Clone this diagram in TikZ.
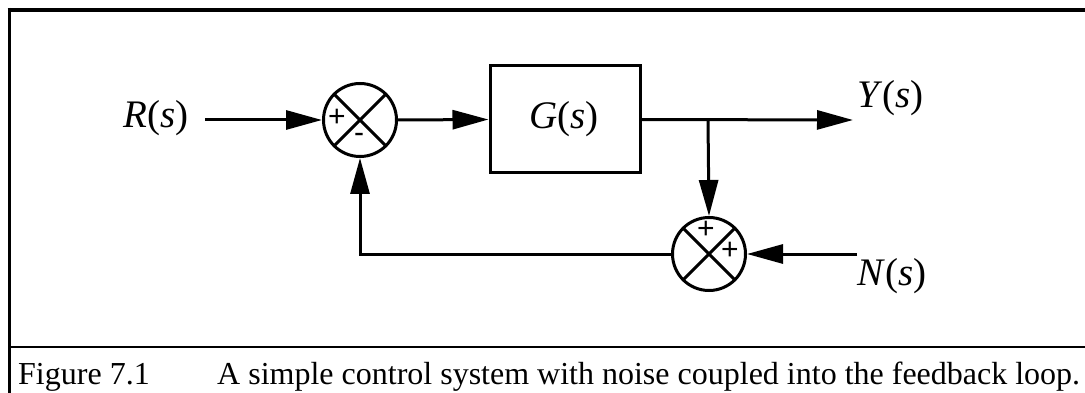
\documentclass[tikz,border=0pt]{standalone}
\usepackage{fontspec}
\setmainfont{Liberation Serif}
\newfontfamily\signfont{Liberation Sans}
\usetikzlibrary{arrows.meta}
\begin{document}
\begin{tikzpicture}[x=1pt,y=-1pt,
  conn/.style={line width=3pt},
  arr/.style={conn,-{Triangle[length=36pt,width=19pt]}},
  sumnode/.style={circle,draw,line width=3pt,minimum size=73pt,inner sep=0pt},
  blockbox/.style={draw,line width=3pt,minimum width=150pt,minimum height=107pt,inner sep=0pt},
  lbl/.style={font=\fontsize{39}{40}\selectfont,inner sep=0pt},
  sgn/.style={font=\signfont\fontsize{30}{30}\selectfont,inner sep=0pt},
  captext/.style={font=\fontsize{32}{34}\selectfont,inner sep=0pt,anchor=base west}]
\useasboundingbox (0,0) rectangle (1085,393);
% frame
\draw[line width=4pt] (7.5,10) -- (1085,10);
\draw[line width=3pt] (9,8) -- (9,393);
\draw[line width=2.5pt] (9,347) -- (1085,347);
% caption
\node[captext] (capa) at (18,384) {Figure 7.1};
\node[captext] (capb) at (217,384) {A simple control system with noise coupled into the feedback loop.};
% blocks
\node[sumnode] (s1) at (360,120) {};
\draw[line width=3pt] (s1.north west) -- (s1.south east) (s1.north east) -- (s1.south west);
\node[sgn] (p1) at (337,118) {+};
\node[sgn] (m1) at (359,138) {-};
\node[blockbox] (g) at (565,119.5) {};
\node[lbl] (gl) at (564,119) {\textit{G}(\textit{s})};
\node[sumnode] (s2) at (709,254) {};
\draw[line width=3pt] (s2.north west) -- (s2.south east) (s2.north east) -- (s2.south west);
\node[sgn] (p2) at (706,230) {+};
\node[sgn] (p3) at (730,251) {+};
% labels and free ends
\node[lbl] (rl) at (156,118) {\textit{R}(\textit{s})};
\coordinate (rin) at (205,120);
\coordinate (br) at (708,120);
\coordinate (yout) at (853,120);
\node[lbl,anchor=west] (yl) at (857,98) {\textit{Y}(\textit{s})};
\coordinate (nin) at (857,254);
\node[lbl,anchor=west] (nl) at (857,276) {\textit{N}(\textit{s})};
% connectors
\draw[arr] (rin) -- (s1.west);
\draw[arr] (s1.east) -- (g.west);
\draw[arr] (g.east) -- (yout);
\draw[arr] (br) -- (s2.north);
\draw[arr] (nin) -- (s2.east);
\draw[arr] (s2.west) -| (s1.south);
\end{tikzpicture}
\end{document}
